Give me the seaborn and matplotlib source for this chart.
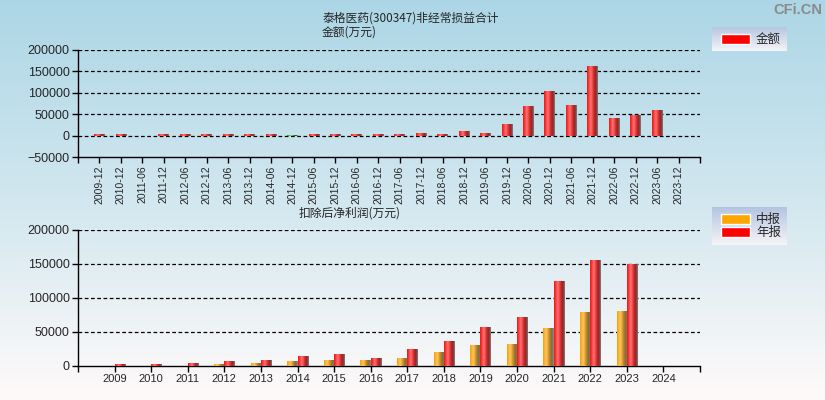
import numpy as np
import pandas as pd
import matplotlib
matplotlib.use('Agg')
import matplotlib.pyplot as plt
import seaborn as sns
from matplotlib.colors import LinearSegmentedColormap
from matplotlib.patches import Patch

# 数据: 非经常损益合计 (万元)
periods = ['2009-12', '2010-12', '2011-06', '2011-12', '2012-06', '2012-12', '2013-06',
           '2013-12', '2014-06', '2014-12', '2015-06', '2015-12', '2016-06', '2016-12',
           '2017-06', '2017-12', '2018-06', '2018-12', '2019-06', '2019-12', '2020-06',
           '2020-12', '2021-06', '2021-12', '2022-06', '2022-12', '2023-06', '2023-12']
nonrecurring = [3500, 3600, np.nan, 3800, 3700, 3600, 3900, 3700, 3800, -1500, 3800, 3900,
                3700, 3900, 4200, 6800, 4500, 11500, 6500, 27500, 69500, 104500, 72000,
                162800, 42000, 46800, 60500, np.nan]

# 数据: 扣除后净利润 (万元)
years = ['2009', '2010', '2011', '2012', '2013', '2014', '2015', '2016',
         '2017', '2018', '2019', '2020', '2021', '2022', '2023', '2024']
half_year = [np.nan, np.nan, np.nan, 2900, 4400, 5900, 7400, 7400,
             10300, 19200, 29500, 31000, 54500, 78100, 79600, np.nan]
annual = [1500, 2900, 4400, 5900, 8800, 13300, 16200, 10300,
          25000, 35400, 56000, 70800, 123800, 154800, 148900, np.nan]

num_font = ['Liberation Sans', 'DejaVu Sans']
cjk_font = ['Noto Sans CJK SC', 'DejaVu Sans']

sns.set_style('white')
plt.rcParams['font.family'] = num_font

red_cm = LinearSegmentedColormap.from_list('r', ['#e81818', '#ff3a3a', '#ff7676', '#f04848',
                                                 '#c02626', '#8a2a2a', '#808080'])
orange_cm = LinearSegmentedColormap.from_list('o', ['#f0a010', '#ffb830', '#f8c46a', '#d89a28',
                                                    '#a87a28', '#806848', '#909090'])
green_cm = LinearSegmentedColormap.from_list('g', ['#209020', '#50c050', '#80d880', '#309030',
                                                   '#206020', '#808080'])


def shade_bars(ax):
    # 把每个柱子换成带渐变的圆柱效果
    grad = np.linspace(0, 1, 64)[None, :]
    for p in list(ax.patches):
        h = p.get_height()
        if not np.isfinite(h) or h == 0:
            continue
        fc = p.get_facecolor()
        if fc[0] < 0.5:
            cm = green_cm
        elif fc[1] > 0.3:
            cm = orange_cm
        else:
            cm = red_cm
        x0 = p.get_x()
        y0 = p.get_y()
        ax.imshow(grad, cmap=cm, aspect='auto', interpolation='bilinear',
                  extent=(x0, x0 + p.get_width(), min(y0, y0 + h), max(y0, y0 + h)),
                  zorder=3)
        p.set_visible(False)


fig = plt.figure(figsize=(8.25, 4), dpi=100)

# 背景渐变
bg = fig.add_axes([0, 0, 1, 1], zorder=-5)
bg_grad = np.linspace(0, 1, 256)[:, None]
bg_cm = LinearSegmentedColormap.from_list('bg', ['#acd6e6', '#d2e7ef', '#fffafa'])
bg.imshow(bg_grad, cmap=bg_cm, aspect='auto', extent=(0, 1, 0, 1))
bg.set_axis_off()

# 图例底框
box_cm = LinearSegmentedColormap.from_list('box', ['#b4c4e0', '#f6f4f8'])
for rect in ([712 / 825, 1 - 51 / 400, 75 / 825, 24 / 400],
             [712 / 825, 1 - 245 / 400, 75 / 825, 38 / 400]):
    bx = fig.add_axes(rect, zorder=-4)
    bx.imshow(bg_grad, cmap=box_cm, aspect='auto', extent=(0, 1, 0, 1))
    bx.set_axis_off()

ax1 = fig.add_axes([78 / 825, 1 - 157 / 400, 622 / 825, 107 / 400])
ax2 = fig.add_axes([78 / 825, 1 - 366 / 400, 622 / 825, 136 / 400])

# 上图
df1 = pd.DataFrame({'period': periods, 'value': nonrecurring})
colors1 = ['#2ca02c' if (v < 0) else '#ff0000' for v in nonrecurring]
sns.barplot(data=df1, x='period', y='value', hue='period', palette=colors1,
            order=periods, legend=False, width=0.5, saturation=1, ax=ax1)
shade_bars(ax1)
ax1.set_xlim(-1, 28)
ax1.set_ylim(-50000, 200000)
ax1.set_yticks([-50000, 0, 50000, 100000, 150000, 200000])
ax1.set_xticks(range(len(periods)))
ax1.set_xticklabels(periods, rotation=90, fontsize=7.5)
ax1.set_xticks([-1, 28], minor=True)

# 下图
df2 = pd.DataFrame({'year': years * 2,
                    'kind': ['中报'] * len(years) + ['年报'] * len(years),
                    'value': half_year + annual})
sns.barplot(data=df2, x='year', y='value', hue='kind', order=years,
            hue_order=['中报', '年报'], palette={'中报': '#ffa500', '年报': '#ff0000'},
            width=0.56, saturation=1, legend=False, ax=ax2)
shade_bars(ax2)
ax2.set_xlim(-1, 16)
ax2.set_ylim(0, 200000)
ax2.set_yticks([0, 50000, 100000, 150000, 200000])
ax2.set_xticks(range(len(years)))
ax2.set_xticklabels(years, fontsize=8)
ax2.set_xticks([-1, 16], minor=True)

for ax in (ax1, ax2):
    ax.patch.set_alpha(0)
    ax.set_xlabel('')
    ax.set_ylabel('')
    for s in ('top', 'right'):
        ax.spines[s].set_visible(False)
    for s in ('left', 'bottom'):
        ax.spines[s].set_color('black')
        ax.spines[s].set_linewidth(1)
    for y in ax.get_yticks():
        if y > ax.get_ylim()[0]:
            ax.axhline(y, color='black', linestyle=(0, (3, 2)), linewidth=0.9, zorder=2)
    ax.tick_params(axis='both', which='both', direction='out', length=4, width=1,
                   color='black', bottom=True, left=True)
    ax.tick_params(axis='y', labelsize=9, pad=2)
    ax.tick_params(axis='x', pad=2)

# 图例
ax1.legend(handles=[Patch(facecolor='#ff0000', label='金额')], loc='upper left',
           bbox_to_anchor=(716 / 825, 1 - 28 / 400), bbox_transform=fig.transFigure,
           frameon=False, prop={'family': cjk_font, 'size': 9},
           handlelength=2.3, handleheight=0.9, handletextpad=0.5, borderaxespad=0)
ax2.legend(handles=[Patch(facecolor='#ffa500', label='中报'),
                    Patch(facecolor='#ff0000', label='年报')], loc='upper left',
           bbox_to_anchor=(716 / 825, 1 - 208 / 400), bbox_transform=fig.transFigure,
           frameon=False, prop={'family': cjk_font, 'size': 9},
           handlelength=2.3, handleheight=0.9, handletextpad=0.5, labelspacing=0.0,
           borderaxespad=0)

# 标题文字
fig.text(411 / 825, 1 - 18 / 400, '泰格医药(300347)非经常损益合计', ha='center', va='center',
         family=cjk_font, fontsize=8.5)
fig.text(322 / 825, 1 - 32 / 400, '金额(万元)', ha='left', va='center',
         family=cjk_font, fontsize=8.5)
fig.text(350 / 825, 1 - 213 / 400, '扣除后净利润(万元)', ha='center', va='center',
         family=cjk_font, fontsize=8.5)
fig.text(822 / 825, 1 - 10 / 400, 'CFi.CN', ha='right', va='center', color='#8a8a8a',
         fontsize=10.5, fontweight='bold', family=num_font)

fig.savefig('out.png', dpi=100)
